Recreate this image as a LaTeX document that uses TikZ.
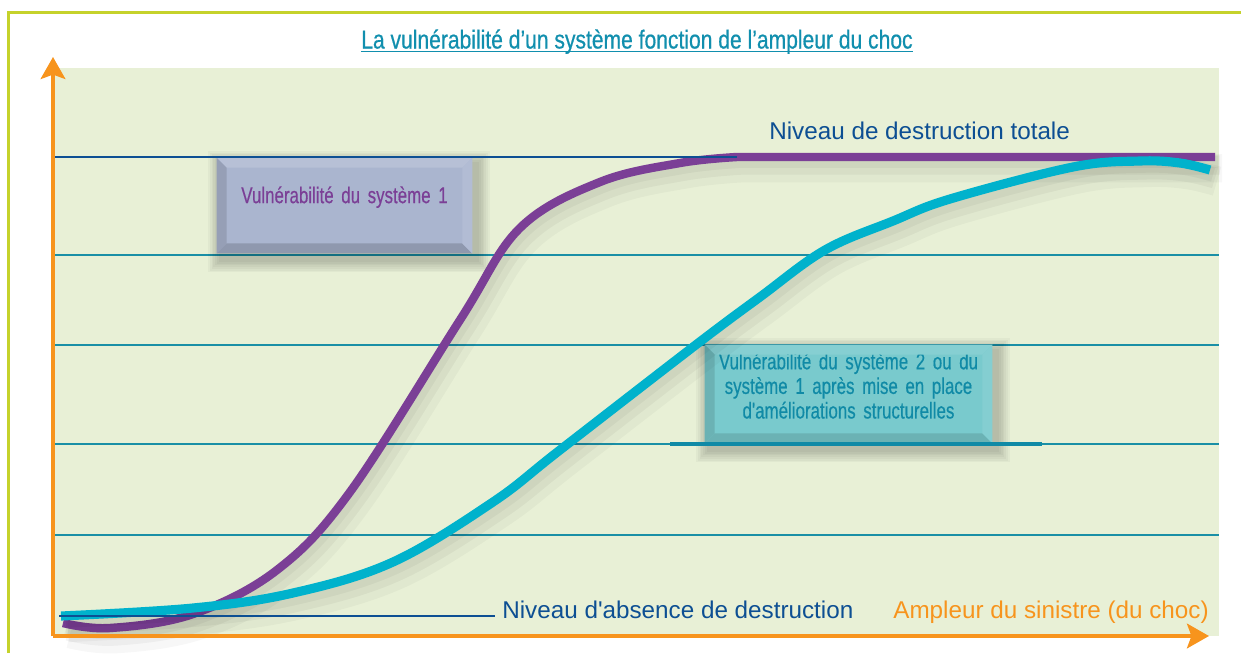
\documentclass[tikz,border=0pt]{standalone}
\usepackage{fontspec}
\setmainfont{Liberation Sans}[Ligatures=TeXOff]
\newfontfamily\titlefont{Liberation Sans}[FakeStretch=0.81,FakeBold=0.6]
\newfontfamily\boxfont{Liberation Sans}[FakeStretch=0.74,FakeBold=0.4,Ligatures=TeXOff]
\usetikzlibrary{arrows.meta,fit}

\definecolor{framegreen}{RGB}{197,210,43}
\definecolor{panelgreen}{RGB}{232,240,214}
\definecolor{axisorange}{RGB}{247,148,29}
\definecolor{levelblue}{RGB}{13,79,147}
\definecolor{gridteal}{RGB}{26,143,166}
\definecolor{titleteal}{RGB}{17,143,174}
\definecolor{vpurple}{RGB}{123,63,150}
\definecolor{vcyan}{RGB}{0,178,204}
\definecolor{boxoneblue}{RGB}{170,181,207}
\definecolor{boxtwoteal}{RGB}{121,202,205}
\definecolor{boxtwotext}{RGB}{16,138,166}

% bevelled edges of a box: node, top, left, bottom, right
\newcommand\bevelbox[5]{%
  \fill[#2] (#1.north west) -- (#1.north east) -- ([shift={(-0.2cm,-0.2cm)}]#1.north east) -- ([shift={(0.2cm,-0.2cm)}]#1.north west) -- cycle;
  \fill[#3] (#1.north west) -- ([shift={(0.2cm,-0.2cm)}]#1.north west) -- ([shift={(0.2cm,0.2cm)}]#1.south west) -- (#1.south west) -- cycle;
  \fill[#4] (#1.south west) -- ([shift={(0.2cm,0.2cm)}]#1.south west) -- ([shift={(-0.2cm,0.2cm)}]#1.south east) -- (#1.south east) -- cycle;
  \fill[#5] (#1.south east) -- ([shift={(-0.2cm,0.2cm)}]#1.south east) -- ([shift={(-0.2cm,-0.2cm)}]#1.north east) -- (#1.north east) -- cycle;
}

\begin{document}
\begin{tikzpicture}[x=0.02cm, y=-0.02cm,
    orangeaxis/.style={axisorange, line width=2.2pt, -{Stealth[length=12.5pt, width=14pt, inset=2.5pt]}},
    levelline/.style={levelblue, line width=1.6pt},
    gridline/.style={gridteal, line width=1pt},
    leveltext/.style={inner sep=0, anchor=base west, font=\fontsize{13.8}{16}\selectfont},
    boxtext/.style={inner sep=0, font=\boxfont\fontsize{13}{14}\selectfont, align=center}]
    \useasboundingbox (0,0) rectangle (1241,653);
    \fill[white] (0,0) rectangle (1241,653);

    % frame and panel
    \draw[framegreen, line width=1.4pt] (8.5,653) -- (8.5,12.5) -- (1241,12.5);
    \fill[panelgreen] (55,68) rectangle (1219,636);

    \node (title) at (637,48.5) [anchor=base, inner sep=0, text=titleteal, font=\titlefont\fontsize{14.8}{16}\selectfont] {La vulnérabilité d’un système fonction de l’ampleur du choc};
    \draw[titleteal, line width=0.7pt] ([yshift=-1.6pt]title.base west) -- ([yshift=-1.6pt]title.base east);

    \foreach \yy in {255,345,444,535}
        \draw[gridline] (55,\yy) -- (1219,\yy);

    % boxes
    \coordinate (s1nw) at (217,158);
    \coordinate (s1se) at (472,253);
    \coordinate (s2nw) at (705,345);
    \coordinate (s2se) at (992,443);
    \foreach \i in {1,...,7} {
        \fill[black, opacity=0.03] ([shift={({(2-\i)*1pt},{(\i-3)*1pt})}]s1nw) rectangle ([shift={({(\i+3)*1pt},{(-\i-4)*1pt})}]s1se);
        \fill[black, opacity=0.03] ([shift={({(2-\i)*1pt},{(\i-3)*1pt})}]s2nw) rectangle ([shift={({(\i+3)*1pt},{(-\i-4)*1pt})}]s2se);
    }
    \node (sys one) [fit=(s1nw)(s1se), inner sep=0, fill=boxoneblue, text=vpurple, boxtext] {Vulnérabilité du système 1};
    \bevelbox{sys one}{boxoneblue!85!white}{boxoneblue!88!black}{boxoneblue!84!black}{boxoneblue!90!white}
    \node (sys two) [fit=(s2nw)(s2se), inner sep=0, fill=boxtwoteal, text=boxtwotext, boxtext] {Vulnérabilité du système 2 ou du\\système 1 après mise en place\\d'améliorations structurelles};
    \bevelbox{sys two}{boxtwoteal!90!white}{boxtwoteal!88!black}{boxtwoteal!88!black}{boxtwoteal!92!white}
    \draw[boxtwotext, line width=2pt] (670,444) -- (1042,444);

    % curves
    \foreach \c/\w/\s/\o in {black/16/7/0.03, black/11/5/0.04, black/7/3/0.04, vpurple/4.8/0/1}
        \draw[\c, line width=\w pt, opacity=\o, shift={(\s,\s*1.6)}] plot[smooth, tension=0.6] coordinates {(63,623) (110,628) (193,614) (277,570) (350,492) (460,320) (520,228) (600,182) (680,163) (737,157)} -- (1215,157);
    \foreach \c/\w/\s/\o in {black/17/7/0.03, black/12/5/0.04, black/8/3/0.04, vcyan/5.2/0/1}
        \draw[\c, line width=\w pt, opacity=\o, shift={(\s,\s*1.6)}] plot[smooth, tension=0.6] coordinates {(61,616) (193,608) (293,593) (393,562) (493,502) (560,450) (697,344) (760,297) (825,250) (893,221) (950,199) (1073,167) (1140,161) (1180,163) (1210,170)};

    % levels
    \draw[levelline] (55,157) -- (737,157);
    \draw[levelline] (59,616) -- (495,616);
    \node (total) at (769,139) [leveltext, text=levelblue] {Niveau de destruction totale};
    \node (absence) at (502,618) [leveltext, text=levelblue] {Niveau d'absence de destruction};
    \node (xlabel) at (893,618) [leveltext, text=axisorange] {Ampleur du sinistre (du choc)};

    % axes
    \coordinate (origin) at (53,636);
    \coordinate (ytip) at (53,57);
    \coordinate (xtip) at (1209,636);
    \draw[orangeaxis] (origin) -- (ytip);
    \draw[orangeaxis] (origin) -- (xtip);
\end{tikzpicture}
\end{document}
